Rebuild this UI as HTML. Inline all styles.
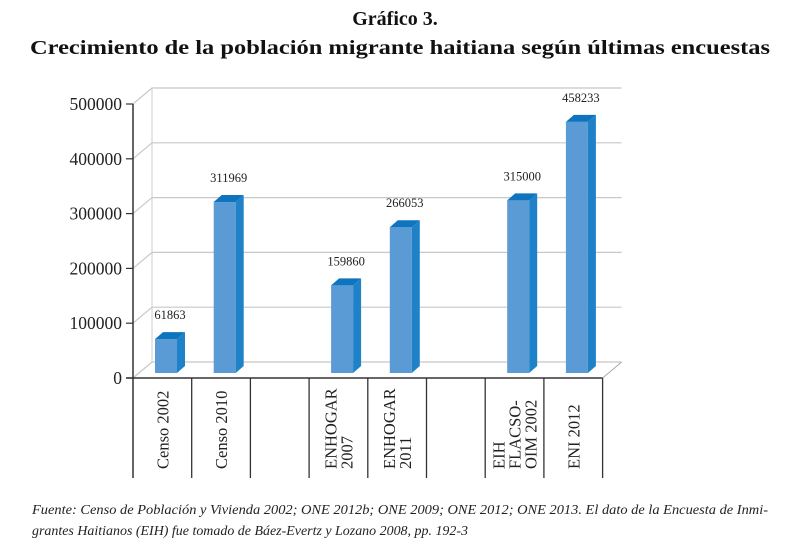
<!DOCTYPE html>
<html><head><meta charset="utf-8"><style>
html,body{margin:0;padding:0;background:#fff;}
svg{display:block;font-family:"Liberation Serif",serif;}
</style></head><body>
<svg id="chart" width="789" height="544" viewBox="0 0 789 544" xmlns="http://www.w3.org/2000/svg">
<text x="395" y="25" text-anchor="middle" font-size="20" font-weight="bold" fill="#111">Gráfico 3.</text>
<text x="400" y="54" text-anchor="middle" font-size="20" font-weight="bold" fill="#111" textLength="740" lengthAdjust="spacingAndGlyphs">Crecimiento de la población migrante haitiana según últimas encuestas</text>
<g id="plot"></g>
<text x="32" y="514" font-size="13.5" font-style="italic" fill="#222" textLength="736" lengthAdjust="spacingAndGlyphs">Fuente: Censo de Población y Vivienda 2002; ONE 2012b; ONE 2009; ONE 2012; ONE 2013. El dato de la Encuesta de Inmi-</text>
<text x="32" y="535" font-size="13.5" font-style="italic" fill="#222" textLength="436" lengthAdjust="spacingAndGlyphs">grantes Haitianos (EIH) fue tomado de Báez-Evertz y Lozano 2008, pp. 192-3</text>
</svg>
<script>
const categories = [["Censo 2002"], ["Censo 2010"], [""], ["ENHOGAR", "2007"], ["ENHOGAR", "2011"], [""], ["EIH", "FLACSO-", "OIM 2002"], ["ENI 2012"]];
const values = [61863, 311969, null, 159860, 266053, null, 315000, 458233];
const tickValues = [0, 100000, 200000, 300000, 400000, 500000];
const tickLabels = ["0", "100000", "200000", "300000", "400000", "500000"];

const NS = "http://www.w3.org/2000/svg";
const g = document.getElementById("plot");
const x0 = 133, y0 = 378, pxPer = 54.8 / 100000, colW = 58.7;
const dx = 19, dy = -16;
const yFront = v => y0 - v * pxPer;
const colX = i => x0 + i * colW;
function mk(tag, attrs, parent) {
  const e = document.createElementNS(NS, tag);
  for (const k in attrs) e.setAttribute(k, attrs[k]);
  (parent || g).appendChild(e);
  return e;
}
const xEnd = colX(categories.length);
tickValues.forEach((v, i) => {
  const y = yFront(v);
  const gl = mk("polyline", {points: `${x0},${y} ${x0+dx},${y+dy} ${xEnd+dx},${y+dy}`, fill: "none", stroke: "#c8c8c8", "stroke-width": 1.2});
  
  
  const t = mk("text", {x: x0 - 11, y: y + 6, "text-anchor": "end", "font-size": 17.5, fill: "#222"});
  t.textContent = tickLabels[i];
  
  
  const tk = mk("line", {x1: x0 - 7, y1: y, x2: x0, y2: y, stroke: "#333", "stroke-width": 1.2});
  
  
});
const fe = mk("line", {x1: xEnd, y1: y0, x2: xEnd + dx, y2: y0 + dy, stroke: "#aaa", "stroke-width": 1});


const bw = mk("line", {x1: x0 + dx, y1: yFront(500000) + dy, x2: x0 + dx, y2: y0 + dy, stroke: "#ccc", "stroke-width": 1});


const bw2 = 22, bd = 8, bdy = -7;
values.forEach((v, i) => {
  if (v == null) return;
  const bx = colX(i) + 22;
  const base = y0 - 5;
  const top = base - v * pxPer;
  const grp = mk("g", {});
  
  
  mk("rect", {x: bx, y: top, width: bw2, height: base - top, fill: "#5b9bd5"}, grp);
  mk("polygon", {points: `${bx+bw2},${top} ${bx+bw2+bd},${top+bdy} ${bx+bw2+bd},${base+bdy} ${bx+bw2},${base}`, fill: "#1f82c8"}, grp);
  mk("polygon", {points: `${bx},${top} ${bx+bd},${top+bdy} ${bx+bw2+bd},${top+bdy} ${bx+bw2},${top}`, fill: "#0e74bd"}, grp);
  const t = mk("text", {x: bx + 15, y: top - 20, "text-anchor": "middle", "font-size": 12.5, fill: "#222"});
  t.textContent = String(v);
  
  
});
const ax = mk("line", {x1: x0, y1: yFront(500000), x2: x0, y2: 478, stroke: "#333", "stroke-width": 1.5});


const xa = mk("line", {x1: x0 - 7, y1: y0, x2: xEnd, y2: y0, stroke: "#333", "stroke-width": 1.5});


categories.forEach((c, i) => {
  const d = mk("line", {x1: colX(i + 1), y1: y0, x2: colX(i + 1), y2: 478, stroke: "#333", "stroke-width": 1.3});
  
  
  const cx = colX(i) + colW / 2;
  const n = c.length;
  c.forEach((line, j) => {
    const off = (j - (n - 1) / 2) * 16;
    const t = mk("text", {x: 0, y: 0, "text-anchor": "start", "font-size": 16.5, fill: "#222",
      transform: `translate(${cx + off + 6},${469}) rotate(-90)`});
    t.textContent = line;
    
    
  });
});
</script>
</body></html>
